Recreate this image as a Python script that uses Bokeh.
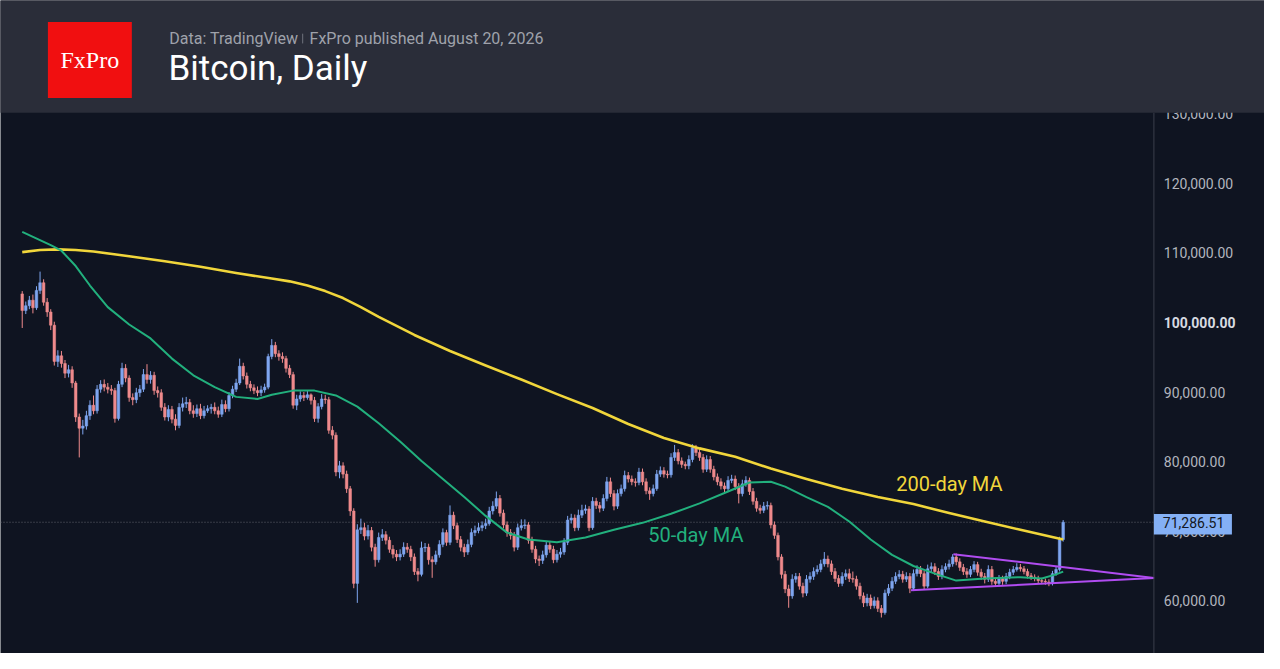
from bokeh.plotting import figure
from bokeh.models import Range1d, ColumnDataSource
from bokeh.embed import file_html
from bokeh.resources import INLINE
from bokeh.core.properties import value

# ---------------- data (prices in thousands of USD) ----------------
first_open_k = 104.1
closes_k = [
    101.7, 102.4, 103.2, 102.1, 104.6, 105.7, 102.9, 101.5, 99.6, 94.4,
    95.2, 94.1, 92.7, 93.2, 91.3, 86.4, 84.8, 85.1, 86.6, 88.1,
    87.3, 90.4, 91.1, 90.7, 90.4, 90.2, 86.2, 91.1, 93.4, 92.0,
    89.2, 88.9, 89.9, 90.4, 92.5, 91.8, 92.4, 90.2, 89.9, 87.8,
    86.4, 87.5, 86.1, 85.2, 87.8, 88.3, 88.5, 87.3, 86.9, 87.6,
    86.6, 87.3, 87.6, 87.8, 87.3, 86.8, 88.2, 87.6, 89.5, 90.4,
    91.3, 93.7, 92.3, 91.1, 90.6, 90.2, 89.9, 90.3, 90.7, 95.1,
    96.7, 95.5, 95.1, 94.8, 93.4, 92.5, 88.1, 89.0, 89.5, 89.2,
    89.6, 88.8, 86.2, 87.9, 89.0, 88.9, 84.5, 83.8, 78.5, 79.4,
    78.2, 76.1, 72.9, 62.5, 70.2, 70.5, 69.3, 70.1, 67.7, 65.9,
    69.1, 69.5, 68.7, 67.4, 66.7, 66.3, 66.7, 67.7, 67.4, 66.3,
    64.2, 63.8, 67.6, 67.7, 65.9, 65.6, 66.6, 68.1, 69.8, 68.4,
    72.3, 70.8, 68.8, 67.7, 67.0, 68.1, 69.8, 70.1, 70.5, 70.8,
    71.1, 72.9, 73.6, 74.7, 72.6, 70.9, 69.8, 69.4, 67.7, 70.5,
    70.8, 70.9, 68.7, 67.4, 66.0, 65.8, 66.6, 68.0, 67.4, 65.9,
    66.7, 67.0, 68.4, 71.6, 71.9, 70.5, 72.3, 73.0, 73.2, 70.5,
    74.3, 73.7, 73.3, 74.7, 77.1, 75.4, 73.6, 75.4, 76.1, 78.0,
    77.5, 77.1, 77.0, 78.5, 77.1, 75.8, 75.4, 76.1, 78.2, 78.7,
    78.2, 78.1, 80.6, 81.3, 80.1, 79.6, 79.4, 80.3, 82.0, 81.3,
    80.6, 78.9, 80.3, 78.9, 77.8, 77.1, 76.5, 76.1, 77.3, 77.5,
    76.4, 75.4, 76.8, 77.3, 75.7, 74.3, 73.3, 73.0, 73.6, 73.7,
    70.9, 69.4, 66.3, 63.8, 61.7, 60.7, 63.1, 63.5, 62.1, 61.1,
    63.1, 63.5, 64.2, 64.5, 65.3, 66.0, 65.3, 64.2, 63.2, 62.5,
    63.5, 63.9, 63.2, 63.1, 62.1, 60.7, 59.7, 60.4, 59.3, 60.0,
    58.9, 58.3, 61.1, 61.8, 62.8, 63.5, 63.8, 63.1, 63.5, 61.8,
    63.9, 64.5, 63.9, 62.1, 64.6, 64.9, 64.2, 63.5, 64.5, 64.9,
    65.3, 66.3, 65.6, 64.8, 64.2, 63.8, 64.5, 65.2, 64.1, 63.5,
    63.1, 64.5, 62.8, 62.5, 63.2, 62.8, 63.5, 64.1, 64.5, 64.8,
    64.6, 64.2, 63.6, 63.4, 63.2, 62.9, 62.8, 62.7, 62.5, 63.9,
    64.5, 68.8, 71.28651,
]
highs_k = [
    104.5, 103.0, 103.8, 104.0, 105.2, 107.3, 106.2, 103.5, 101.9, 100.1,
    96.0, 95.9, 94.6, 93.9, 93.7, 91.6, 86.9, 86.0, 87.3, 88.8,
    89.5, 91.0, 91.7, 91.8, 91.3, 91.0, 90.6, 91.6, 94.2, 94.0,
    92.4, 89.8, 90.6, 91.0, 93.3, 94.0, 93.0, 92.9, 90.8, 90.4,
    88.4, 88.1, 88.0, 86.8, 88.4, 89.2, 89.3, 89.0, 88.1, 88.2,
    88.3, 88.0, 88.1, 88.3, 88.5, 87.9, 88.9, 88.8, 90.0, 90.9,
    91.9, 94.8, 94.2, 92.8, 91.6, 91.1, 90.8, 90.9, 91.2, 95.5,
    97.6, 97.2, 96.0, 95.7, 95.2, 93.9, 92.9, 89.6, 90.1, 90.0,
    90.2, 89.8, 89.3, 88.4, 89.7, 89.6, 89.3, 85.1, 84.2, 80.1,
    79.9, 78.7, 76.5, 73.3, 71.0, 71.8, 71.2, 70.9, 70.6, 68.2,
    69.8, 70.3, 70.0, 69.2, 68.0, 67.3, 67.4, 68.4, 68.3, 67.9,
    66.8, 64.7, 68.5, 68.3, 68.2, 66.4, 67.2, 68.7, 70.4, 70.2,
    73.7, 72.8, 71.2, 69.3, 68.2, 68.8, 70.4, 70.8, 71.2, 71.4,
    71.8, 73.5, 74.3, 75.7, 75.2, 73.1, 71.4, 70.3, 69.9, 71.1,
    71.7, 71.7, 71.3, 69.2, 67.9, 66.5, 67.2, 68.6, 68.6, 67.9,
    67.3, 67.6, 69.0, 72.2, 72.5, 72.4, 73.1, 73.8, 73.8, 73.6,
    74.9, 74.8, 74.2, 75.3, 77.8, 77.7, 75.9, 76.0, 76.7, 78.7,
    78.5, 78.0, 77.6, 79.1, 79.0, 77.6, 76.3, 76.7, 78.8, 79.3,
    79.2, 78.7, 81.2, 82.4, 81.8, 80.6, 80.0, 80.9, 82.5, 82.4,
    81.8, 81.1, 80.9, 80.8, 79.4, 78.3, 77.6, 77.0, 77.9, 78.1,
    78.0, 76.9, 77.4, 77.9, 77.7, 76.2, 74.8, 73.8, 74.2, 74.3,
    74.1, 71.4, 69.8, 66.7, 64.3, 62.3, 63.8, 64.0, 64.0, 62.6,
    63.7, 64.1, 64.8, 65.1, 65.9, 67.0, 66.5, 65.8, 64.7, 63.7,
    64.1, 64.5, 64.6, 64.2, 63.6, 62.6, 61.2, 61.0, 60.9, 60.6,
    60.5, 59.4, 61.6, 62.4, 63.4, 64.1, 64.4, 64.3, 64.1, 64.0,
    64.5, 65.1, 65.0, 64.3, 65.2, 65.5, 65.4, 64.7, 65.1, 65.4,
    65.9, 66.7, 66.8, 66.1, 65.3, 64.7, 65.0, 65.7, 65.6, 64.6,
    64.0, 65.1, 65.0, 63.3, 63.7, 63.6, 64.0, 64.6, 65.0, 65.4,
    65.3, 65.0, 64.6, 64.0, 63.8, 63.6, 63.3, 63.2, 63.1, 64.3,
    65.0, 69.2, 71.6,
]
lows_k = [
    99.2, 101.2, 101.9, 101.3, 101.8, 104.1, 102.4, 100.8, 98.9, 93.8,
    93.6, 93.5, 92.0, 92.1, 90.6, 85.7, 80.6, 83.9, 84.6, 86.0,
    86.8, 86.9, 89.9, 90.1, 89.8, 89.6, 85.6, 85.9, 90.7, 91.4,
    88.6, 88.1, 88.4, 89.3, 90.0, 91.2, 91.2, 89.6, 89.2, 87.3,
    85.9, 85.8, 85.5, 84.5, 84.8, 87.2, 87.7, 86.8, 86.3, 86.4,
    86.1, 86.2, 87.0, 86.9, 86.8, 86.3, 86.4, 87.1, 87.2, 89.1,
    90.0, 91.0, 91.8, 90.5, 90.1, 89.7, 89.4, 89.4, 89.9, 90.4,
    94.7, 95.0, 94.5, 94.2, 92.8, 92.0, 87.6, 87.4, 88.6, 88.7,
    88.9, 88.2, 85.7, 85.6, 87.5, 88.3, 84.0, 83.2, 77.9, 77.6,
    77.6, 75.5, 72.2, 61.8, 59.7, 69.6, 68.7, 68.8, 67.1, 64.9,
    65.5, 68.6, 68.1, 66.9, 66.1, 65.7, 65.8, 66.3, 66.9, 65.7,
    63.7, 62.8, 63.5, 67.0, 65.2, 63.3, 65.2, 66.2, 67.7, 67.9,
    68.0, 70.3, 68.3, 67.1, 66.3, 66.6, 67.7, 69.3, 69.7, 70.0,
    70.3, 70.8, 72.4, 73.2, 72.1, 70.4, 69.2, 68.8, 67.1, 67.3,
    70.1, 70.3, 68.2, 66.9, 65.4, 65.0, 65.3, 66.2, 66.9, 65.4,
    65.5, 66.2, 66.6, 68.0, 71.1, 70.0, 70.1, 71.9, 72.5, 70.0,
    70.2, 73.2, 72.7, 72.9, 74.3, 74.9, 73.0, 73.2, 75.0, 75.7,
    77.0, 76.6, 76.4, 76.6, 76.6, 75.3, 74.5, 75.0, 75.8, 77.8,
    77.7, 77.6, 77.7, 80.1, 79.6, 79.1, 78.9, 78.9, 79.9, 80.8,
    80.1, 78.4, 78.5, 78.4, 77.3, 76.6, 76.0, 75.6, 75.7, 76.9,
    75.9, 74.0, 75.0, 76.4, 75.2, 73.8, 72.8, 72.5, 72.6, 73.1,
    70.4, 68.9, 65.8, 63.2, 61.1, 59.0, 60.3, 62.6, 61.6, 60.5,
    60.7, 62.6, 63.0, 63.8, 64.1, 64.9, 64.8, 63.7, 62.7, 62.0,
    62.1, 63.0, 62.7, 62.6, 61.6, 60.2, 59.1, 59.2, 58.8, 58.9,
    58.4, 57.6, 58.0, 60.7, 61.4, 62.4, 63.1, 62.6, 62.7, 61.1,
    61.4, 63.5, 63.4, 61.6, 61.8, 64.1, 63.7, 63.0, 63.1, 64.1,
    64.5, 64.9, 65.1, 64.3, 63.7, 63.3, 63.4, 64.1, 63.6, 63.0,
    62.5, 62.7, 62.3, 62.0, 62.1, 62.3, 62.4, 63.1, 63.7, 64.2,
    64.2, 63.8, 63.2, 63.0, 62.8, 62.5, 62.4, 62.3, 62.1, 62.2,
    63.6, 64.2, 68.5,
]

ma200_idx = [0, 5, 10, 15, 20, 30, 40, 50, 60, 70, 75, 80, 85, 90, 95, 100,
             110, 120, 130, 140, 150, 160, 170, 180, 190, 200, 210, 220, 230,
             240, 250, 260, 270, 280, 292]
ma200_k = [110.1, 110.4, 110.5, 110.4, 110.2, 109.5, 108.8, 108.0, 107.1, 106.3,
           105.9, 105.3, 104.5, 103.5, 102.2, 100.8, 98.2, 95.9, 93.8, 91.8,
           89.7, 87.7, 85.4, 83.4, 81.9, 80.7, 79.0, 77.5, 76.1, 74.9,
           73.9, 72.6, 71.4, 70.2, 68.8]

ma50_idx = [0, 8, 11, 15, 19, 24, 30, 36, 42, 48, 54, 60, 66, 70, 76, 82, 88, 94,
            100, 106, 112, 118, 124, 130, 136, 142, 150, 158, 166, 174, 182, 190,
            198, 204, 210, 214, 220, 226, 232, 238, 244, 250, 256, 262, 270, 280,
            286, 290, 292]
ma50_k = [113.0, 111.1, 110.3, 108.1, 105.3, 102.2, 99.7, 97.7, 94.8, 92.4, 90.7,
          89.3, 89.0, 89.6, 90.2, 90.2, 89.5, 87.9, 85.5, 82.9, 80.1, 77.5, 74.9,
          72.2, 69.8, 68.8, 68.4, 69.1, 70.2, 71.2, 72.5, 74.0, 75.7, 77.0, 77.1,
          76.4, 74.9, 73.5, 71.4, 68.8, 66.6, 65.0, 63.9, 62.9, 63.2, 63.4, 63.2,
          63.8, 64.2]

tri_upper_idx = [261.2, 317.5]
tri_upper_k = [66.7, 63.27]
tri_lower_idx = [249.3, 317.5]
tri_lower_k = [61.5, 63.27]

tick_prices = [60000, 70000, 80000, 90000, 100000, 110000, 120000, 130000]
tick_labels = ["60,000.00", "70,000.00", "80,000.00", "90,000.00",
               "100,000.00", "110,000.00", "120,000.00", "130,000.00"]
last_price = 71286.51
last_price_label = "71,286.51"

# ---------------- styling / geometry ----------------
BG = "#0f1421"
HEADER_BG = "#2a2d39"
UP = "#7fa6f0"
DOWN = "#ef8a8c"
YELLOW = "#f1d63b"
GREEN = "#22b07d"
PURPLE = "#b04cf0"
AXIS_TXT = "#b2b5be"

W, H = 1264, 653          # figure size; reference layout (1280x669) is scaled into it
REF_W, REF_H = 1280, 669
SP = 3.61                 # reference px per candle
PX10K = 71.3              # reference px per 10,000 USD


def ix(ref_x):
    """reference-pixel x -> candle index"""
    return (ref_x - 22) / SP


def py(ref_y):
    """reference-pixel y -> price"""
    return 60000 + (615 - ref_y) / PX10K * 10000


n = min(len(closes_k), len(highs_k), len(lows_k))
closes = [c * 1000 for c in closes_k[:n]]
highs = [h * 1000 for h in highs_k[:n]]
lows = [l * 1000 for l in lows_k[:n]]
opens = [first_open_k * 1000] + closes[:-1]
idx = list(range(n))
tops = [max(o, c) for o, c in zip(opens, closes)]
bots = [min(o, c) for o, c in zip(opens, closes)]
cols = [UP if c >= o else DOWN for o, c in zip(opens, closes)]

src = ColumnDataSource(dict(x=idx, h=highs, l=lows, top=tops, bot=bots, col=cols))

p = figure(width=W, height=H,
           x_range=Range1d(ix(0), ix(REF_W)),
           y_range=Range1d(py(REF_H), py(0)),
           toolbar_location=None, output_backend="svg", min_border=0,
           x_axis_location=None, y_axis_location=None)
p.background_fill_color = BG
p.border_fill_color = BG
p.outline_line_color = None
p.grid.visible = False

ROB = value("Roboto")

# last price dotted line
p.segment(x0=[ix(0)], y0=[last_price], x1=[ix(1168)], y1=[last_price],
          line_color="#5f626d", line_width=1, line_dash="1 2")

# candles
p.segment(x0="x", y0="l", x1="x", y1="h", line_color="col", line_width=1, source=src)
p.vbar(x="x", width=0.74, top="top", bottom="bot", fill_color="col",
       line_color="col", line_width=0.5, source=src)

# moving averages
p.line(ma200_idx, [v * 1000 for v in ma200_k], line_color=YELLOW, line_width=2.6,
       line_join="round")
p.line(ma50_idx, [v * 1000 for v in ma50_k], line_color=GREEN, line_width=2,
       line_join="round")

# triangle
p.line(tri_upper_idx, [v * 1000 for v in tri_upper_k], line_color=PURPLE, line_width=2)
p.line(tri_lower_idx, [v * 1000 for v in tri_lower_k], line_color=PURPLE, line_width=2)

# series labels
p.text(x=[ix(907)], y=[py(495)], text=["200-day MA"], text_font=ROB,
       text_font_size="20px", text_color=YELLOW, text_baseline="middle")
p.text(x=[ix(656)], y=[py(548)], text=["50-day MA"], text_font=ROB,
       text_font_size="20px", text_color=GREEN, text_baseline="middle")

# price scale
p.segment(x0=[ix(1168)], y0=[py(115)], x1=[ix(1168)], y1=[py(REF_H)],
          line_color="#3b3f4b", line_width=1)
tick_src = ColumnDataSource(dict(
    x=[ix(1178)] * len(tick_prices), y=tick_prices, t=tick_labels,
    col=["#d8dbe2" if v == 100000 else AXIS_TXT for v in tick_prices],
    sty=["bold" if v == 100000 else "normal" for v in tick_prices]))
p.text(x="x", y="y", text="t", text_color="col", text_font_style="sty",
       text_font=ROB, text_font_size="14px", text_baseline="middle", source=tick_src)
p.quad(left=[ix(1168)], right=[ix(1247)], bottom=[py(547)], top=[py(526)],
       fill_color="#84b0f5", line_color=None)
p.text(x=[ix(1177)], y=[last_price], text=[last_price_label], text_font=ROB,
       text_font_size="14px", text_color="#131722", text_baseline="middle")

# header band (drawn on top)
p.quad(left=[ix(-2)], right=[ix(REF_W + 2)], top=[py(-2)], bottom=[py(115)],
       fill_color=HEADER_BG, line_color=None)
p.quad(left=[ix(48)], right=[ix(133)], top=[py(22)], bottom=[py(100)],
       fill_color="#f10f10", line_color=None)
p.text(x=[ix(90.5)], y=[py(61)], text=["FxPro"], text_font=value("Liberation Serif"),
       text_font_size="24px", text_color="white", text_align="center", text_baseline="middle")
p.text(x=[ix(171)], y=[py(39)], text=["Data: TradingView"], text_font=ROB,
       text_font_size="16px", text_color="#9fa2ab", text_baseline="middle")
p.segment(x0=[ix(306)], y0=[py(34)], x1=[ix(306)], y1=[py(44)],
          line_color="#6f727c", line_width=1)
p.text(x=[ix(313)], y=[py(39)], text=["FxPro published August 20, 2026"], text_font=ROB,
       text_font_size="16px", text_color="#9fa2ab", text_baseline="middle")
p.text(x=[ix(170)], y=[py(70)], text=["Bitcoin, Daily"], text_font=ROB,
       text_font_size="35px", text_color="white", text_baseline="middle")

open("out.html", "w").write(file_html(p, INLINE, title="Bitcoin, Daily"))
